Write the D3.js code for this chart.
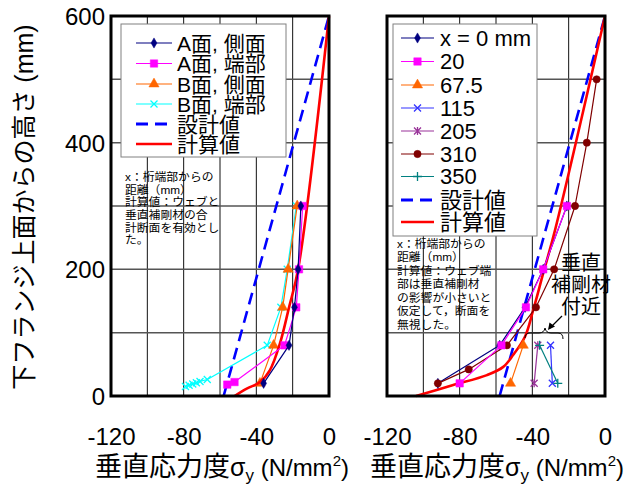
<!DOCTYPE html>
<html><head><meta charset="utf-8">
<script src="https://cdn.jsdelivr.net/npm/d3@7"></script>
<style>
html,body{margin:0;padding:0;background:#fff;}
text{font-family:"Liberation Sans",Arial,"Noto Sans CJK JP",sans-serif;fill:#000;}
</style></head>
<body><svg id="c" width="640" height="489"></svg>
<script>
// ---------- data ----------
const xTickValues = [-120, -80, -40, 0];
const yTickValues = [0, 200, 400, 600];
const xGridValues = [-100, -80, -60, -40, -20];
const yGridValues = [100, 200, 300, 400, 500];

// left panel (measured)
const leftASideH = [20, 80, 140, 200, 300];
const leftASideS = [-36, -22, -19, -17, -15.5];
const leftAEndH = [18, 22, 80, 140, 200, 300];
const leftAEndS = [-56, -52, -24.5, -18, -16.5, -14.5];
const leftBSideH = [20, 80, 140, 200, 300];
const leftBSideS = [-38, -30.5, -25.5, -22.5, -17.5];
const leftBEndH = [15, 17, 19, 21, 23, 26, 80, 140, 200, 300];
const leftBEndS = [-79, -77, -75, -73, -71, -67, -34, -26.5, -23, -18];
const designH = [0, 600];
const designS = [-58, 0];
const leftCalcH = [0, 12, 22, 41, 83, 140, 200, 600];
const leftCalcS = [-52, -45, -38, -32.5, -27, -22, -17, 0];

// right panel (distance from girder end)
const r0H = [20, 80, 140, 200, 300];
const r0S = [-92, -58, -44, -34, -21];
const r20H = [20, 80, 140, 200, 300];
const r20S = [-80, -57, -43.5, -34, -21];
const r67H = [20, 80];
const r67S = [-52, -45];
const r115H = [20, 80];
const r115S = [-29, -30];
const r205H = [20, 80];
const r205S = [-39, -37];
const r310H = [20, 42, 80, 140, 200, 300, 400, 500];
const r310S = [-92, -75, -54, -38, -28, -16.5, -10, -4.6];
const r350H = [20, 80];
const r350S = [-26, -36];
const rightCalcH = [0, 17, 33, 46, 65, 94, 136, 194, 262, 600];
const rightCalcS = [-104, -84, -65, -56, -50.5, -44, -39.5, -34, -27.5, 0];

const leftLegendLabels = ["A面, 側面", "A面, 端部", "B面, 側面", "B面, 端部", "設計値", "計算値"];
const rightLegendLabels = ["x = 0 mm", "20", "67.5", "115", "205", "310", "350", "設計値", "計算値"];
const leftNote = ["x：桁端部からの", "距離（mm）", "計算値：ウェブと", "垂直補剛材の合", "計断面を有効とし", "た。"];
const rightNote = ["x：桁端部からの", "距離（mm）", "計算値：ウェブ端", "部は垂直補剛材", "の影響が小さいと", "仮定して，断面を", "無視した。"];
const stiffNote = ["垂直", "補剛材", "付近"];

const zip = (h, s) => h.map((v, i) => ({h: v, s: s[i]}));

// ---------- drawing ----------
const svg = d3.select("#c");
const y = d3.scaleLinear().domain([0, 600]).range([396, 16]);
const xL = d3.scaleLinear().domain([-120, 0]).range([111, 329]);
const xR = d3.scaleLinear().domain([-120, 0]).range([387, 605]);

const markerPath = {
  diamond: d3.symbol(d3.symbolDiamond, 30)(),
  square: d3.symbol(d3.symbolSquare, 55)(),
  triangle: d3.symbol(d3.symbolTriangle, 45)(),
  circle: d3.symbol(d3.symbolCircle, 42)(),
  xmark: "M-3.5,-3.5L3.5,3.5M3.5,-3.5L-3.5,3.5",
  star: "M-3.5,-3.5L3.5,3.5M3.5,-3.5L-3.5,3.5M0,-4L0,4",
  plus: "M-4.5,0L4.5,0M0,-4.5L0,4.5"
};
const filledMarkers = {diamond: 1, square: 1, triangle: 1, circle: 1};
const numFmt = d => String(d);

function panel(x, name) {
  const g = svg.append("g").attr("class", name);
  g.selectAll(".vg").data(xGridValues).join("line")
    .attr("x1", d => x(d)).attr("x2", d => x(d)).attr("y1", y(0)).attr("y2", y(600))
    .attr("stroke", "#111").attr("stroke-width", 1);
  g.selectAll(".hg").data(yGridValues).join("line")
    .attr("y1", d => y(d)).attr("y2", d => y(d)).attr("x1", x(-120)).attr("x2", x(0))
    .attr("stroke", "#555").attr("stroke-width", 1.5);
  const ax = d3.axisBottom(x).tickValues(xTickValues).tickSize(0).tickPadding(0).tickFormat(numFmt);
  const axg = g.append("g").attr("transform", `translate(0,${y(0) + 41})`).call(ax);
  axg.select(".domain").remove();
  axg.selectAll("text").attr("font-size", 24).attr("dy", "0.35em")
    .style("font-family", '"Liberation Sans",Arial,sans-serif');
  return g;
}

const gL = panel(xL, "left");
const gR = panel(xR, "right");

const ay = d3.axisLeft(y).tickValues(yTickValues).tickSize(0).tickPadding(0).tickFormat(numFmt);
const ayg = svg.append("g").attr("transform", "translate(105,0)").call(ay);
ayg.select(".domain").remove();
ayg.selectAll("text").attr("font-size", 24).attr("dy", "0.35em")
  .style("font-family", '"Liberation Sans",Arial,sans-serif');

function drawLine(g, x, data, color, width, dash, curve) {
  const line = d3.line().x(d => x(d.s)).y(d => y(d.h));
  if (curve) line.curve(d3.curveCatmullRom.alpha(0.5));
  g.append("path").datum(data).attr("d", line).attr("fill", "none")
    .attr("stroke", color).attr("stroke-width", width)
    .attr("stroke-dasharray", dash || null).attr("stroke-linejoin", "round");
}
function drawMarkers(g, x, data, color, marker) {
  g.selectAll(null).data(data).join("path")
    .attr("d", markerPath[marker])
    .attr("transform", d => `translate(${x(d.s)},${y(d.h)})`)
    .attr("fill", filledMarkers[marker] ? color : "none")
    .attr("stroke", color).attr("stroke-width", filledMarkers[marker] ? 0.5 : 1.3);
}
function series(g, x, h, s, color, marker) {
  const data = zip(h, s);
  drawLine(g, x, data, color, 1.2);
  drawMarkers(g, x, data, color, marker);
}

const C = {navy: "#000080", mag: "#FF00FF", orange: "#FF6600", cyan: "#00FFFF",
  blue: "#3333FF", purple: "#993399", brown: "#800000", teal: "#008080",
  design: "#0000FF", calc: "#FF0000"};

drawLine(gL, xL, zip(designH, designS), C.design, 2.6, "12,7");
series(gL, xL, leftBEndH, leftBEndS, C.cyan, "xmark");
series(gL, xL, leftBSideH, leftBSideS, C.orange, "triangle");
drawLine(gL, xL, zip(leftCalcH, leftCalcS), C.calc, 2.6, null, true);
series(gL, xL, leftAEndH, leftAEndS, C.mag, "square");
series(gL, xL, leftASideH, leftASideS, C.navy, "diamond");

drawLine(gR, xR, zip(designH, designS), C.design, 2.6, "12,7");
drawLine(gR, xR, zip(rightCalcH, rightCalcS), C.calc, 2.6, null, true);
series(gR, xR, r0H, r0S, C.navy, "diamond");
series(gR, xR, r310H, r310S, C.brown, "circle");
series(gR, xR, r20H, r20S, C.mag, "square");
series(gR, xR, r67H, r67S, C.orange, "triangle");
series(gR, xR, r115H, r115S, C.blue, "xmark");
series(gR, xR, r205H, r205S, C.purple, "star");
series(gR, xR, r350H, r350S, C.teal, "plus");

[xL, xR].forEach(x => {
  svg.append("rect").attr("x", x(-120)).attr("y", y(600))
    .attr("width", x(0) - x(-120)).attr("height", y(0) - y(600))
    .attr("fill", "none").attr("stroke", "#000").attr("stroke-width", 3);
});

function legend(x0, y0, w, h, lineX1, lineX2, textX, rows, rowY, fs) {
  const g = svg.append("g");
  g.append("rect").attr("x", x0).attr("y", y0).attr("width", w).attr("height", h)
    .attr("fill", "#fff").attr("stroke", "#808080").attr("stroke-width", 1);
  rows.forEach((r, i) => {
    const yy = rowY[i];
    g.append("line").attr("x1", lineX1).attr("x2", lineX2).attr("y1", yy).attr("y2", yy)
      .attr("stroke", r.color).attr("stroke-width", r.width || 1.2)
      .attr("stroke-dasharray", r.dash || null);
    if (r.marker) {
      g.append("path").attr("d", markerPath[r.marker])
        .attr("transform", `translate(${(lineX1 + lineX2) / 2},${yy})`)
        .attr("fill", filledMarkers[r.marker] ? r.color : "none")
        .attr("stroke", r.color).attr("stroke-width", filledMarkers[r.marker] ? 0.5 : 1.3);
    }
    g.append("text").attr("x", textX).attr("y", yy).attr("dy", "0.36em")
      .attr("font-size", fs).text(r.label);
  });
}
legend(121, 24, 165, 133, 136, 172, 177, [
  {label: leftLegendLabels[0], color: C.navy, marker: "diamond"},
  {label: leftLegendLabels[1], color: C.mag, marker: "square"},
  {label: leftLegendLabels[2], color: C.orange, marker: "triangle"},
  {label: leftLegendLabels[3], color: C.cyan, marker: "xmark"},
  {label: leftLegendLabels[4], color: C.design, width: 3, dash: "12,7"},
  {label: leftLegendLabels[5], color: C.calc, width: 2.6}
], [43, 63.5, 84, 104, 124, 144], 21);
legend(393, 24, 144, 212, 401, 434, 440, [
  {label: rightLegendLabels[0], color: C.navy, marker: "diamond"},
  {label: rightLegendLabels[1], color: C.mag, marker: "square"},
  {label: rightLegendLabels[2], color: C.orange, marker: "triangle"},
  {label: rightLegendLabels[3], color: C.blue, marker: "xmark"},
  {label: rightLegendLabels[4], color: C.purple, marker: "star"},
  {label: rightLegendLabels[5], color: C.brown, marker: "circle"},
  {label: rightLegendLabels[6], color: C.teal, marker: "plus"},
  {label: rightLegendLabels[7], color: C.design, width: 3, dash: "12,7"},
  {label: rightLegendLabels[8], color: C.calc, width: 2.6}
], [38, 61.5, 85, 108, 131, 154, 176.5, 200, 222], 22);

function note(lines, x0, y0, dy, fs) {
  lines.forEach((t, i) => {
    svg.append("text").attr("x", x0).attr("y", y0 + i * dy).attr("dy", "0.36em")
      .attr("font-size", fs).text(t);
  });
}
note(leftNote, 125, 177, 12.6, 11.8);
note(rightNote, 397, 243.5, 13.5, 11.8);
stiffNote.forEach((t, i) => {
  svg.append("text").attr("x", 581).attr("y", 263 + i * 22).attr("dy", "0.36em")
    .attr("text-anchor", "middle").attr("font-size", 20).text(t);
});
svg.append("path")
  .attr("d", "M525,338 Q525,333 530,333 L539,333 Q544,333 545,328 Q546,333 551,333 L558,333 Q563,333 563,339")
  .attr("fill", "none").attr("stroke", "#000").attr("stroke-width", 1);
svg.append("line").attr("x1", 562).attr("y1", 316).attr("x2", 550).attr("y2", 328)
  .attr("stroke", "#000").attr("stroke-width", 1.2);
svg.append("path").attr("d", "M548,330 L549.5,322.5 L555,326.5 Z").attr("fill", "#000");

function xTitle(cx) {
  const t = svg.append("text").attr("x", cx).attr("y", 476).attr("text-anchor", "middle");
  t.append("tspan").attr("font-size", 27).text("垂直応力度");
  t.append("tspan").attr("font-size", 25).text("σ");
  t.append("tspan").attr("font-size", 17).attr("dy", 5).text("y");
  t.append("tspan").attr("font-size", 24).attr("dy", -5).text(" (N/mm");
  t.append("tspan").attr("font-size", 15).attr("dy", -10).text("2");
  t.append("tspan").attr("font-size", 24).attr("dy", 10).text(")");
}
xTitle(222);
xTitle(497);
svg.append("text").attr("transform", "translate(24,207) rotate(-90)")
  .attr("text-anchor", "middle").attr("dy", "0.35em").attr("font-size", 25)
  .text("下フランジ上面からの高さ (mm)");
</script></body></html>
